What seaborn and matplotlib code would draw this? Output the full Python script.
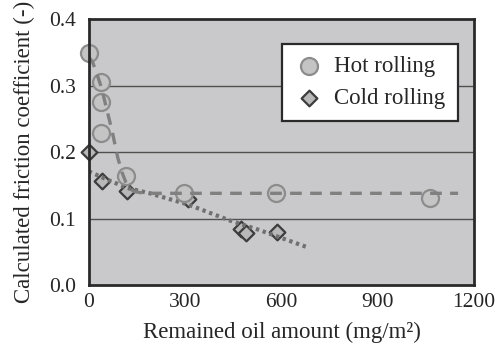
import numpy as np
import pandas as pd
import seaborn as sns
import matplotlib
matplotlib.use("Agg")
import matplotlib.pyplot as plt

# Data
hot_x = [0, 37, 37, 37, 115, 296, 583, 1063]
hot_y = [0.349, 0.305, 0.275, 0.229, 0.164, 0.138, 0.138, 0.131]
cold_x = [0, 41, 118, 310, 475, 488, 586]
cold_y = [0.200, 0.156, 0.141, 0.130, 0.084, 0.078, 0.080]

# Trend curves
hot_fit_x = [0, 12, 25, 40, 55, 72, 90, 103, 115, 125, 140, 160, 200, 300, 600, 900, 1150]
hot_fit_y = [0.343, 0.335, 0.318, 0.296, 0.266, 0.233, 0.192, 0.170, 0.155, 0.147, 0.141, 0.139, 0.138, 0.138, 0.138, 0.138, 0.138]
cold_fit_x = [0, 60, 120, 190, 310, 440, 530, 680]
cold_fit_y = [0.171, 0.158, 0.146, 0.138, 0.121, 0.097, 0.083, 0.057]

xticks = [0, 300, 600, 900, 1200]
yticks = [0.0, 0.1, 0.2, 0.3, 0.4]

sns.set_style("white")
plt.rcParams['font.family'] = ['Liberation Serif', 'DejaVu Serif']
plt.rcParams['mathtext.fontset'] = 'stix'

fig = plt.figure(figsize=(4.96, 3.52), dpi=100)
ax = fig.add_axes([0.179, 0.190, 0.777, 0.756])
ax.set_facecolor('#c9c9cb')

hot = pd.DataFrame({'x': hot_x, 'y': hot_y})
cold = pd.DataFrame({'x': cold_x, 'y': cold_y})
hotfit = pd.DataFrame({'x': hot_fit_x, 'y': hot_fit_y})
coldfit = pd.DataFrame({'x': cold_fit_x, 'y': cold_fit_y})

for yv in [0.1, 0.2, 0.3]:
    ax.axhline(yv, color='#505050', lw=1.0, zorder=1)

sns.scatterplot(data=cold, x='x', y='y', ax=ax, marker='D', s=64,
                color='#b8b8b8', edgecolor='#3c3c3c', linewidth=1.6, zorder=3,
                label='Cold rolling', clip_on=False)
sns.lineplot(data=coldfit, x='x', y='y', ax=ax, sort=False, estimator=None,
             color='#707070', lw=3.0, zorder=4)
ax.lines[-1].set_linestyle((0, (0.8, 0.9)))
sns.scatterplot(data=hot, x='x', y='y', ax=ax, marker='o', s=150,
                color='#c4c4c4', edgecolor='#8c8c8c', linewidth=1.6, zorder=5,
                label='Hot rolling', clip_on=False)
sns.lineplot(data=hotfit, x='x', y='y', ax=ax, sort=False, estimator=None,
             color='#808080', lw=2.4, zorder=6)
ax.lines[-1].set_linestyle((0, (3.5, 2.5)))

ax.set_xlim(0, 1200)
ax.set_ylim(0, 0.4)
ax.set_xticks(xticks)
ax.set_yticks(yticks)
ax.set_xticklabels([str(v) for v in xticks])
ax.set_yticklabels([f"{v:.1f}" for v in yticks])
ax.tick_params(axis='x', direction='in', length=5, width=1, color='#505050',
               labelsize=15.5, pad=6)
ax.tick_params(axis='y', length=0, labelsize=15.5, pad=9)
for sp in ax.spines.values():
    sp.set_color('#2a2a2a')
    sp.set_linewidth(2.0)
    sp.set_zorder(10)

ax.set_xlabel('Remained oil amount (mg/m\u00b2)', fontsize=16.5, labelpad=7)
ax.set_ylabel('Calculated friction coefficient (-)', fontsize=16.5, labelpad=10)

h, l = ax.get_legend_handles_labels()
order = [l.index('Hot rolling'), l.index('Cold rolling')]
leg = ax.legend([h[i] for i in order], [l[i] for i in order],
                loc='upper left', bbox_to_anchor=(0.502, 0.907),
                frameon=True, fancybox=False, fontsize=16.5,
                handletextpad=0.5, borderpad=0.55, labelspacing=0.45,
                handlelength=1.2, borderaxespad=0)
leg.get_frame().set_edgecolor('#2a2a2a')
leg.get_frame().set_linewidth(1.6)
leg.get_frame().set_facecolor('white')
leg.get_frame().set_alpha(1)
leg.set_zorder(20)

fig.savefig('out.png', dpi=100)
